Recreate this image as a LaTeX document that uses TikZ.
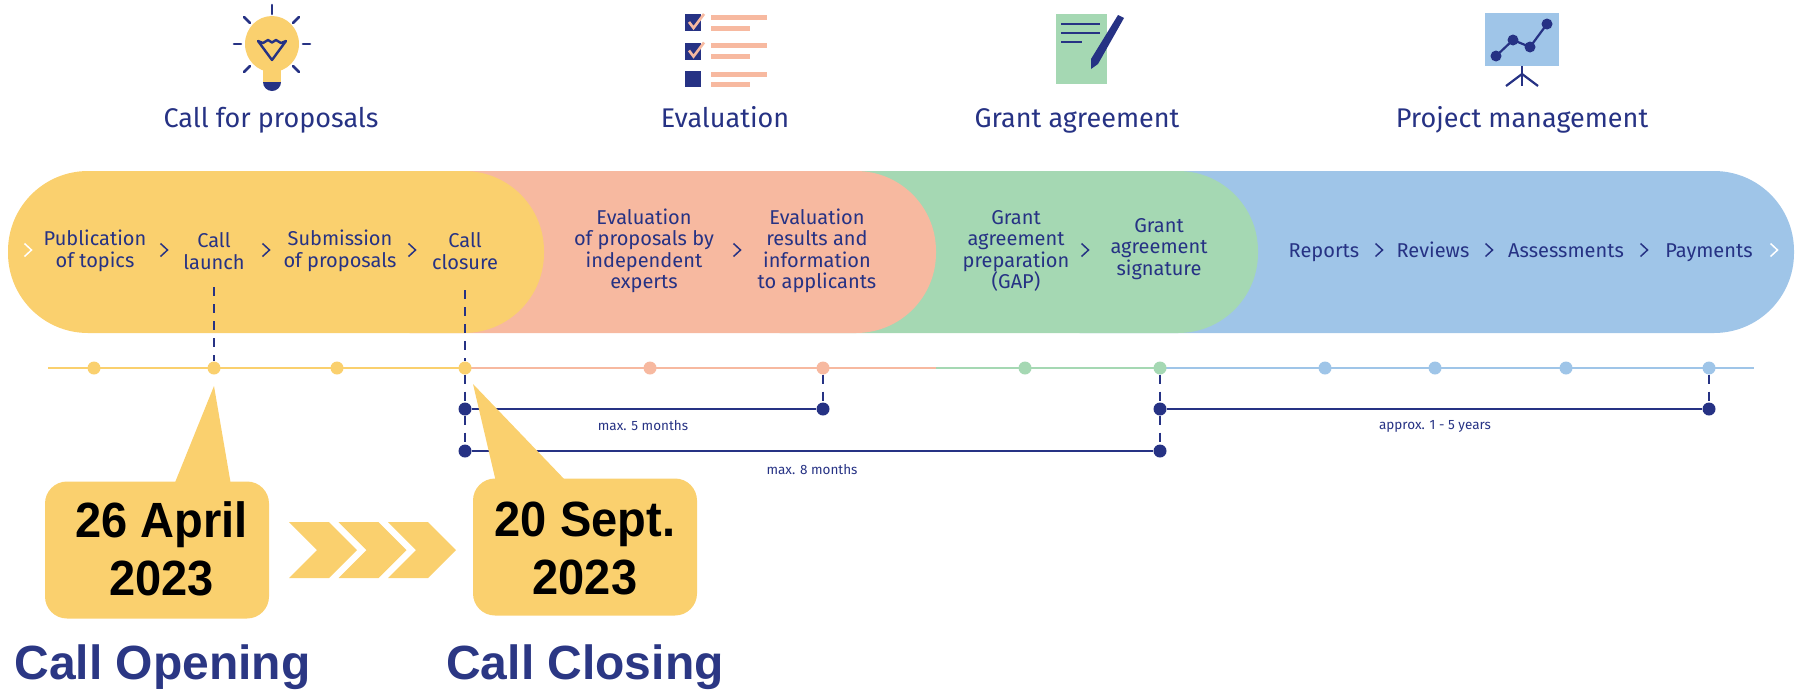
\documentclass[tikz,border=0pt]{standalone}
\usepackage{fontspec}
\setmainfont{Fira Sans}
\newfontfamily\boldfont{Liberation Sans}[BoldFont={Liberation Sans Bold}]
\newfontfamily\datefont{Liberation Sans}[BoldFont={Liberation Sans Bold}, FakeStretch=0.95]
\usetikzlibrary{positioning}
\definecolor{callyellow}{HTML}{FAD06E}
\definecolor{evalsalmon}{HTML}{F7B9A0}
\definecolor{grantgreen}{HTML}{A5D8B3}
\definecolor{mgmtblue}{HTML}{9FC5E8}
\definecolor{navy}{HTML}{263284}
\definecolor{titlenavy}{HTML}{2B3784}

\begin{document}
\begin{tikzpicture}[x=1pt, y=-1pt,
        band/.style={minimum height=162pt, rounded corners=80pt, inner sep=0pt},
        lbl/.style={text=navy, align=center, font=\fontsize{20}{21.5}\selectfont},
        heading/.style={text=navy, anchor=base, font=\fontsize{27}{30}\selectfont},
        chev/.style={draw=navy, line width=1.5pt},
        smalllbl/.style={text=navy, font=\fontsize{13.5}{15}\selectfont},
        dot/.style={circle, inner sep=0pt, minimum size=13pt},
        bar/.style={draw=navy, line width=2.8pt},
        dashline/.style={draw=navy, line width=1.3pt, dash pattern=on 9pt off 8pt},
        datebox/.style={fill=callyellow, rounded corners=22pt, minimum width=224pt, minimum height=137pt, inner sep=0pt},
        datetext/.style={align=center, inner sep=0pt, font=\datefont\bfseries\fontsize{49.5}{58}\selectfont},
        bigtitle/.style={text=titlenavy, font=\boldfont\bfseries\fontsize{48}{52}\selectfont},
        ray/.style={draw=navy, line width=2.6pt, line cap=round}]
    \useasboundingbox (0,0) rectangle (1801,689);

    % bands, back to front
    \node[band, fill=mgmtblue, minimum width=794pt] (mgmt) at (1397,252) {};
    \node[band, fill=grantgreen, minimum width=558pt] (grant) at (979,252) {};
    \node[band, fill=evalsalmon, minimum width=606pt] (eval) at (633,252) {};
    \node[band, fill=callyellow, minimum width=536pt] (call) at (276,252) {};

    % band texts
    \node[lbl] (topics) at (95,251) {Publication\\of topics};
    \node[lbl] (launch) at (214,251) {Call\\launch};
    \node[lbl] (submission) at (340,251) {Submission\\of proposals};
    \node[lbl] (closure) at (465,251) {Call\\closure};
    \node[lbl] (experts) at (644,251) {Evaluation\\of proposals by\\independent\\experts};
    \node[lbl] (results) at (817,251) {Evaluation\\results and\\information\\to applicants};
    \node[lbl] (gap) at (1016,251) {Grant\\agreement\\preparation\\(GAP)};
    \node[lbl] (signature) at (1159,249) {Grant\\agreement\\signature};
    \node[lbl, anchor=base] (reports) at (1324,257) {Reports};
    \node[lbl, anchor=base] (reviews) at (1433,257) {Reviews};
    \node[lbl, anchor=base] (assess) at (1566,257) {Assessments};
    \node[lbl, anchor=base] (payments) at (1709,257) {Payments};

    \foreach \x in {164,266,412,737,1085,1379,1489,1644}
        \draw[chev] (\x-3.5,243.5) -- (\x+3.5,250) -- (\x-3.5,256.5);
    \draw[chev, draw=white] (24.5,243.5) -- (31.5,250) -- (24.5,256.5);
    \draw[chev, draw=white] (1770.5,243.5) -- (1777.5,250) -- (1770.5,256.5);

    % headings
    \node[heading] (h1) at (271,127) {Call for proposals};
    \node[heading] (h2) at (725,127) {Evaluation};
    \node[heading] (h3) at (1077,127) {Grant agreement};
    \node[heading] (h4) at (1522,127) {Project management};

    % timeline
    \draw[callyellow, line width=2.4pt] (48,368) -- (465,368);
    \draw[evalsalmon, line width=2.4pt] (465,368) -- (936,368);
    \draw[grantgreen, line width=2.4pt] (936,368) -- (1160,368);
    \draw[mgmtblue, line width=2.4pt] (1160,368) -- (1754,368);

    \coordinate (t1) at (214,287);
    \coordinate (t2) at (465,290);

    % dashes go under the dots
    \node[dot, fill=navy] (a1) at (465,409) {};
    \node[dot, fill=navy] (a2) at (823,409) {};
    \node[dot, fill=navy] (b1) at (465,451) {};
    \node[dot, fill=navy] (b2) at (1160,451) {};
    \node[dot, fill=navy] (c1) at (1160,409) {};
    \node[dot, fill=navy] (c2) at (1709,409) {};

    \foreach \n/\x in {1/94,2/214,3/337,4/465}
        \node[dot, fill=callyellow] (y\n) at (\x,368) {};
    \foreach \n/\x in {1/650,2/823}
        \node[dot, fill=evalsalmon] (e\n) at (\x,368) {};
    \foreach \n/\x in {1/1025,2/1160}
        \node[dot, fill=grantgreen] (g\n) at (\x,368) {};
    \foreach \n/\x in {1/1325,2/1435,3/1566,4/1709}
        \node[dot, fill=mgmtblue] (m\n) at (\x,368) {};

    \draw[dashline] (t1) -- (y2);
    \draw[dashline] (t2) -- (y4);
    \draw[dashline] (y4) -- (a1);
    \draw[dashline] (a1) -- (b1);
    \draw[dashline] (e2) -- (a2);
    \draw[dashline] (g2) -- (c1);
    \draw[dashline] (c1) -- (b2);
    \draw[dashline] (m4) -- (c2);

    \draw[bar] (a1) -- (a2);
    \draw[bar] (b1) -- (b2);
    \draw[bar] (c1) -- (c2);

    \node[smalllbl] (five) at (643,426) {max. 5 months};
    \node[smalllbl] (eight) at (812,470) {max. 8 months};
    \node[smalllbl] (years) at (1435,426) {approx. 1 - 5 years};

    % date boxes
    \coordinate (tip1) at (214,386);
    \coordinate (tip2) at (473,384);
    \fill[callyellow] (tip1) -- (174,485) -- (231,485) -- cycle;
    \fill[callyellow] (tip2) -- (496,482) -- (567,482) -- cycle;
    \node[datebox] (opening) at (157,550) {};
    \node[datebox] (closing) at (585,547) {};
    \node[datetext] (openingdate) at (161.5,549) {26 April\\2023};
    \node[datetext] (closingdate) at (585,548) {20 Sept.\\2023};

    % chevrons between the boxes
    \foreach \x in {0,49.5,99}
        \fill[callyellow] (289+\x,522) -- (329+\x,522) -- (357+\x,550) -- (329+\x,578)
            -- (289+\x,578) -- (317+\x,550) -- cycle;

    \node[bigtitle] (callopen) at (162.5,667) {Call Opening};
    \node[bigtitle] (callclose) at (585,667) {Call Closing};

    % bulb
    \fill[callyellow] (272,44) ellipse (27pt and 28pt);
    \fill[callyellow] (263,62) rectangle (281,83);
    \fill[navy] (263,82) arc[start angle=180, end angle=360, radius=9pt] -- cycle;
    \draw[ray] (272,5) -- (272,14);
    \draw[ray] (234,44) -- (241,44);
    \draw[ray] (303,44) -- (310,44);
    \draw[ray] (244,17) -- (250,23);
    \draw[ray] (299,17) -- (293,23);
    \draw[ray] (244,72) -- (250,66);
    \draw[ray] (299,72) -- (293,66);
    \draw[navy, line width=2.4pt, line join=round] (258,41) -- (263,43) -- (268,40) -- (272,42.5) -- (276,40)
        -- (281,43) -- (286,41) -- (272,60) -- cycle;

    % checklist
    \foreach \y in {14,42.5}{
        \fill[navy] (685,\y) rectangle (701,\y+17);
        \draw[evalsalmon, line width=2.6pt] (689,\y+8) -- (693.5,\y+14) -- (704,\y);
    }
    \fill[navy] (685,71) rectangle (701,87);
    \foreach \y in {17.5,45.5,74}{
        \fill[evalsalmon] (711,\y-2.5) rectangle (767,\y+2.5);
        \fill[evalsalmon] (711,\y+8) rectangle (750,\y+13);
    }

    % contract
    \fill[grantgreen] (1056,14) rectangle (1107,84);
    \draw[navy, line width=2.2pt] (1061,24) -- (1100,24);
    \draw[navy, line width=2.2pt] (1061,33) -- (1100,33);
    \draw[navy, line width=2.2pt] (1061,42) -- (1082,42);
    \fill[navy] (1118,15) -- (1124,18) -- (1098,64) -- (1091,69) -- (1091,59) -- cycle;

    % chart on a stand
    \fill[mgmtblue] (1485,13) rectangle (1559,66);
    \draw[navy, line width=2.2pt] (1522,66) -- (1522,86);
    \draw[navy, line width=2.2pt] (1506,86) -- (1522,74) -- (1538,86);
    \draw[navy, line width=2.2pt] (1496,56) -- (1513,40) -- (1530,47) -- (1547,24);
    \foreach \x/\y in {1496/56,1513/40,1530/47,1547/24}
        \fill[navy] (\x,\y) circle (5.5pt);
\end{tikzpicture}
\end{document}
